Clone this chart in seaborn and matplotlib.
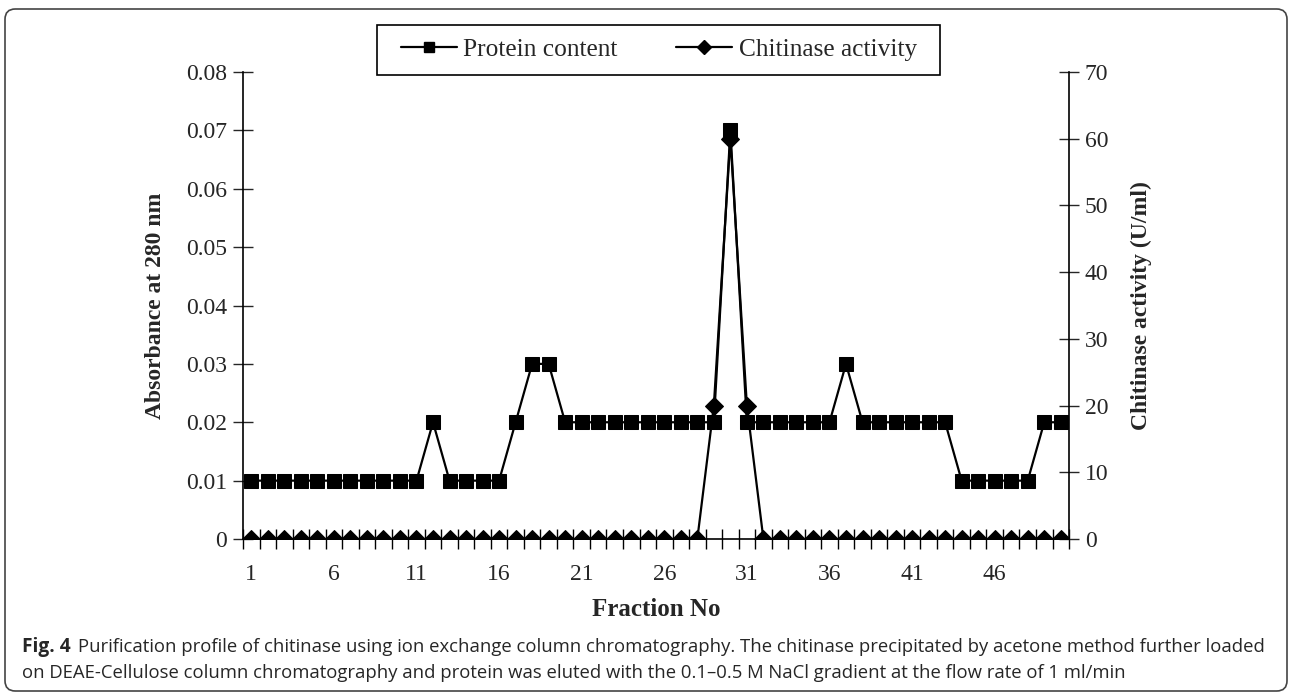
import numpy as np
import matplotlib
matplotlib.use('Agg')
import matplotlib.pyplot as plt
from matplotlib.patches import FancyBboxPatch, Rectangle
from matplotlib.lines import Line2D
import seaborn as sns

# fractions 1..50
fractions = list(range(1, 51))

# absorbance at 280 nm (protein content)
protein = [0.01] * 11 + [0.02] + [0.01] * 4 + [0.02, 0.03, 0.03] + [0.02] * 10 \
    + [0.07] + [0.02] * 6 + [0.03] + [0.02] * 6 + [0.01] * 5 + [0.02, 0.02]

# chitinase activity (U/ml)
activity = [0] * 28 + [20, 60, 20] + [0] * 19

x_labels = [1, 6, 11, 16, 21, 26, 31, 36, 41, 46]
left_ticks = [0, 0.01, 0.02, 0.03, 0.04, 0.05, 0.06, 0.07, 0.08]
right_ticks = [0, 10, 20, 30, 40, 50, 60, 70]

sns.set_style('white')
plt.rcParams['font.family'] = ['Liberation Serif', 'DejaVu Serif']

W, H = 1290, 693
fig = plt.figure(figsize=(W / 100, H / 100), dpi=100)
ax = fig.add_axes([0.1884, 0.2222, 0.6403, 0.6739])
ax2 = ax.twinx()

sns.lineplot(x=fractions, y=protein, ax=ax, color='black', marker='s',
             markersize=10, markeredgecolor='black', linewidth=1.6)
sns.lineplot(x=fractions, y=activity, ax=ax2, color='black', marker='D',
             markersize=9.5, markeredgecolor='black', linewidth=1.6)

ax.set_xlim(0.5, 50.5)
ax.set_ylim(0, 0.08)
ax2.set_ylim(0, 70)

ax.set_xticks(x_labels)
ax.set_xticklabels([str(v) for v in x_labels], fontsize=17)
ax.set_xticks(np.arange(0.5, 51, 1), minor=True)
ax.tick_params(axis='x', which='major', length=0, pad=18)
ax.tick_params(axis='x', which='minor', bottom=True, direction='inout',
               length=15, width=1, color='black')

ax.set_yticks(left_ticks)
ax.set_yticklabels(['0'] + [f'{v:.2f}' for v in left_ticks[1:]], fontsize=17)
ax.tick_params(axis='y', left=True, direction='inout', length=15, width=1, pad=4)
ax2.set_yticks(right_ticks)
ax2.set_yticklabels([str(v) for v in right_ticks], fontsize=17)
ax2.tick_params(axis='y', right=True, direction='inout', length=15, width=1, pad=4)

for a in (ax, ax2):
    a.spines['top'].set_visible(False)
    for s in ('left', 'right', 'bottom'):
        a.spines[s].set_color('black')
        a.spines[s].set_linewidth(1.2)
ax.spines['right'].set_visible(False)
ax2.spines['left'].set_visible(False)
ax2.spines['bottom'].set_visible(False)

ax.set_xlabel('Fraction No', fontsize=18, fontweight='bold', labelpad=9)
ax.set_ylabel('Absorbance at 280 nm', fontsize=17, fontweight='bold', labelpad=14)
ax2.set_ylabel('Chitinase activity (U/ml)', fontsize=17, fontweight='bold', labelpad=16)

# legend: box drawn separately because it is wider than tall padding allows
fig.patches.append(Rectangle((377 / W, 1 - 75 / H), 563 / W, 50 / H,
                             transform=fig.transFigure, facecolor='white',
                             edgecolor='black', linewidth=1.2, zorder=5))
handles = [Line2D([], [], color='black', marker='s', markersize=7, linewidth=1.6),
           Line2D([], [], color='black', marker='D', markersize=7.5, linewidth=1.6)]
leg = fig.legend(handles, ['Protein content', 'Chitinase activity'], loc='center',
                 bbox_to_anchor=(659 / W, 1 - 50 / H), ncol=2, fontsize=18.3,
                 frameon=False, handlelength=2.2, columnspacing=2.3,
                 handletextpad=0.25, borderpad=0.2)
leg.set_zorder(6)

# outer rounded frame of the figure box
frame = FancyBboxPatch((5 / W, 2 / H), 1282 / W, 682 / H,
                       boxstyle='round,pad=0,rounding_size=0.008',
                       mutation_aspect=W / H, transform=fig.transFigure,
                       facecolor='none', edgecolor='#444444', linewidth=1.2)
fig.patches.append(frame)

cap_font = ['Open Sans', 'DejaVu Sans']
cap_size = 13.3
fig.text(22 / W, 1 - 647 / H, 'Fig. 4', fontsize=cap_size + 0.5, fontweight='bold',
         family=cap_font, va='center', ha='left')
fig.text(78 / W, 1 - 647 / H,
         'Purification profile of chitinase using ion exchange column chromatography. '
         'The chitinase precipitated by acetone method further loaded',
         fontsize=cap_size, family=cap_font, va='center', ha='left')
fig.text(22 / W, 1 - 673 / H,
         'on DEAE-Cellulose column chromatography and protein was eluted with the '
         '0.1\u20130.5 M NaCl gradient at the flow rate of 1 ml/min',
         fontsize=cap_size, family=cap_font, va='center', ha='left')

fig.savefig('out.png', dpi=100)
